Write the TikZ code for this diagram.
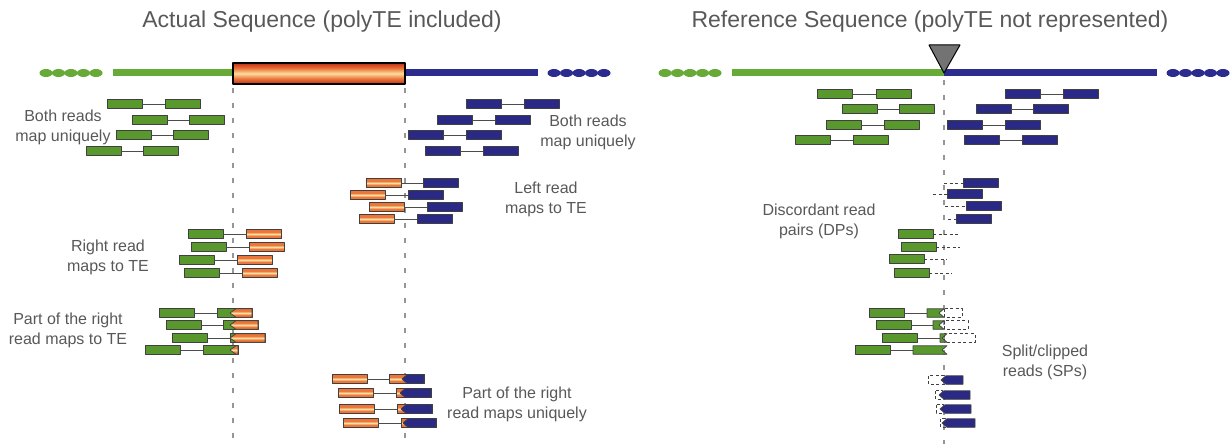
\documentclass[tikz,border=0pt]{standalone}
\usepackage{fontspec}
\setmainfont{Liberation Sans}
\definecolor{flankgreen}{RGB}{104,170,56}
\definecolor{readgreen}{RGB}{88,152,44}
\definecolor{flankblue}{RGB}{44,44,142}
\definecolor{readblue}{RGB}{42,42,134}
\definecolor{tedark}{RGB}{196,52,26}
\definecolor{teorange}{RGB}{236,118,58}
\definecolor{telight}{RGB}{252,222,160}
\definecolor{txtgray}{RGB}{88,88,88}
\definecolor{markgray}{RGB}{150,150,150}

\pgfdeclareverticalshading{teshade}{100bp}{color(0bp)=(tedark); color(26bp)=(tedark);
  color(38bp)=(teorange); color(50bp)=(telight); color(62bp)=(teorange);
  color(74bp)=(tedark); color(100bp)=(tedark)}
\pgfdeclareverticalshading{readshade}{100bp}{color(0bp)=(teorange); color(38bp)=(teorange);
  color(50bp)=(telight); color(62bp)=(teorange); color(100bp)=(teorange)}

\tikzset{
  read/.style={draw=black!75, line width=0.7pt, minimum width=35pt, minimum height=8.5pt,
    inner sep=0pt, outer sep=0pt, anchor=west},
  gread/.style={read, fill=readgreen},
  bread/.style={read, fill=readblue},
  oread/.style={read, shading=readshade},
  ghost/.style={minimum width=35pt, minimum height=8.5pt, inner sep=0pt, outer sep=0pt, anchor=west},
  mate/.style={black!70, line width=0.7pt},
  lost/.style={black!75, line width=0.7pt, dash pattern=on 3pt off 2.5pt},
  lbl/.style={align=center, text=txtgray, font=\fontsize{16}{20}\selectfont},
  ttl/.style={text=txtgray, font=\fontsize{23}{27}\selectfont},
  junc/.style={markgray, line width=1.6pt, dash pattern=on 5pt off 10pt},
}

\begin{document}
\begin{tikzpicture}[x=1pt,y=-1pt,line join=round]
\useasboundingbox (0,0) rectangle (1232,444);

% titles
\node[ttl] (ttlA) at (322,22) {Actual Sequence (polyTE included)};
\node[ttl] (ttlR) at (930,22) {Reference Sequence (polyTE not represented)};

% insertion borders
\draw[junc] (233,88) -- (233,444);
\draw[junc] (405,88) -- (405,444);
\draw[junc] (944,80) -- (944,444);

% actual sequence
\foreach \x in {46,58.5,...,96} \fill[flankgreen] (\x,73) ellipse (6.5pt and 4pt);
\draw[flankgreen, line width=7pt] (113,73) -- (233,73);
\draw[flankblue, line width=7pt] (405,73) -- (538,73);
\foreach \x in {554,566.5,...,604} \fill[flankblue] (\x,73) ellipse (6.5pt and 4pt);
\draw[black, line width=1.8pt, shading=teshade] (233,63) rectangle (405,84);

% reference sequence
\foreach \x in {665,677.5,...,715} \fill[flankgreen] (\x,73) ellipse (6.5pt and 4pt);
\draw[flankgreen, line width=7pt] (732,73) -- (944,73);
\draw[flankblue, line width=7pt] (944,73) -- (1157,73);
\foreach \x in {1173,1185.5,...,1223} \fill[flankblue] (\x,73) ellipse (6.5pt and 4pt);
\filldraw[fill=black!55, draw=black, line width=1pt] (929,45) -- (960,45) -- (944,73) -- cycle;

% both reads map uniquely
\foreach \a/\b/\y [count=\i] in {107/165/104,132/189/120,116/173/135,86/143/151}{
  \node[gread] (gua\i) at (\a,\y) {};
  \node[gread] (gub\i) at (\b,\y) {};
  \draw[mate] (gua\i) -- (gub\i);
}
\foreach \a/\b/\y [count=\i] in {466/524/104,437/495/120,408/466/135,425/483/151}{
  \node[bread] (bua\i) at (\a,\y) {};
  \node[bread] (bub\i) at (\b,\y) {};
  \draw[mate] (bua\i) -- (bub\i);
}

% one read in the TE
\foreach \a/\b/\y [count=\i] in {366/423/183,350/408/195,369/427/207,359/417/219}{
  \node[oread] (lta\i) at (\a,\y) {};
  \node[bread] (ltb\i) at (\b,\y) {};
  \draw[mate] (lta\i) -- (ltb\i);
}
\foreach \a/\b/\y [count=\i] in {188/246/234,191/249/247,179/237/260,184/242/273}{
  \node[gread] (rta\i) at (\a,\y) {};
  \node[oread] (rtb\i) at (\b,\y) {};
  \draw[mate] (rta\i) -- (rtb\i);
}

% split reads over the borders
\foreach \a/\b/\y [count=\i] in {159/217/313,166/223/325,172/230/338,145/203/350}{
  \node[gread] (psa\i) at (\a,\y) {};
  \node[gread] (psb\i) at (\b,\y) {};
  \draw[mate] (psa\i) -- (psb\i);
  \draw[black!75, line width=0.7pt, shading=readshade]
    (236,\y-4.25) -- (\b+35,\y-4.25) -- (\b+35,\y+4.25) -- (236,\y+4.25) -- (230,\y) -- cycle;
}
\foreach \a/\b/\y/\s [count=\i] in {332/389/379/405,338/396/393/403,339/397/409/404,343/401/423/406}{
  \node[oread] (pua\i) at (\a,\y) {};
  \node[oread] (pub\i) at (\b,\y) {};
  \draw[mate] (pua\i) -- (pub\i);
  \filldraw[fill=readblue, draw=black!75, line width=0.7pt]
    (\s+2,\y-4.25) -- (\b+35,\y-4.25) -- (\b+35,\y+4.25) -- (\s+2,\y+4.25) -- (\s-3,\y) -- cycle;
}

% reference: concordant pairs
\foreach \a/\b/\y [count=\i] in {817/876/94,842/899/109,826/884/125,795/853/140}{
  \node[gread] (rgua\i) at (\a,\y) {};
  \node[gread] (rgub\i) at (\b,\y) {};
  \draw[mate] (rgua\i) -- (rgub\i);
}
\foreach \a/\b/\y [count=\i] in {1005/1063/94,976/1033/109,947/1005/125,964/1022/140}{
  \node[bread] (rbua\i) at (\a,\y) {};
  \node[bread] (rbub\i) at (\b,\y) {};
  \draw[mate] (rbua\i) -- (rbub\i);
}

% reference: discordant pairs
\foreach \b/\e/\y [count=\i] in {963/944/183,947/933/194,966/945/206,956/948/219}{
  \node[bread] (dpb\i) at (\b,\y) {};
  \coordinate (dpbe\i) at (\e,\y);
  \draw[lost] (dpbe\i) -- (dpb\i);
}
\foreach \a/\e/\y [count=\i] in {898/958/234,901/960/247,889/947/259,894/952/273}{
  \node[gread] (dpg\i) at (\a,\y) {};
  \coordinate (dpge\i) at (\e,\y);
  \draw[lost] (dpg\i) -- (dpge\i);
}

% reference: split reads
\foreach \a/\b/\y [count=\i] in {869/927/313,876/933/325,882/940/338}
  \draw[lost] (944,\y-4.25) rectangle (\b+35,\y+4.25);
\foreach \a/\b/\y/\j [count=\i] in {869/927/313/944,876/933/325/944,882/940/338/947,855/913/350/947}{
  \node[gread] (spa\i) at (\a,\y) {};
  \node[ghost] (spb\i) at (\b,\y) {};
  \draw[mate] (spa\i) -- (spb\i);
  \filldraw[fill=readgreen, draw=black!75, line width=0.7pt]
    (\b,\y-4.25) -- (\j,\y-4.25) -- (\j-5,\y) -- (\j,\y+4.25) -- (\b,\y+4.25) -- cycle;
}
\foreach \b/\y/\j in {928/380/944,935/395/942,936/409/943,940/423/945}{
  \draw[lost] (\b,\y-4.25) rectangle (\j,\y+4.25);
  \filldraw[fill=readblue, draw=black!75, line width=0.7pt]
    (\j+2,\y-4.25) -- (\b+35,\y-4.25) -- (\b+35,\y+4.25) -- (\j+2,\y+4.25) -- (\j-3,\y) -- cycle;
}

% labels
\node[lbl] (lbBothL) at (63,127) {Both reads\\map uniquely};
\node[lbl] (lbBothR) at (588,132) {Both reads\\map uniquely};
\node[lbl] (lbLeftTE) at (546,199) {Left read\\maps to TE};
\node[lbl] (lbRightTE) at (108,257) {Right read\\maps to TE};
\node[lbl] (lbPartTE) at (68,330) {Part of the right\\read maps to TE};
\node[lbl] (lbPartUq) at (517,404) {Part of the right\\read maps uniquely};
\node[lbl] (lbDP) at (819,221) {Discordant read\\pairs (DPs)};
\node[lbl] (lbSP) at (1045,362) {Split/clipped\\reads (SPs)};
\end{tikzpicture}
\end{document}
